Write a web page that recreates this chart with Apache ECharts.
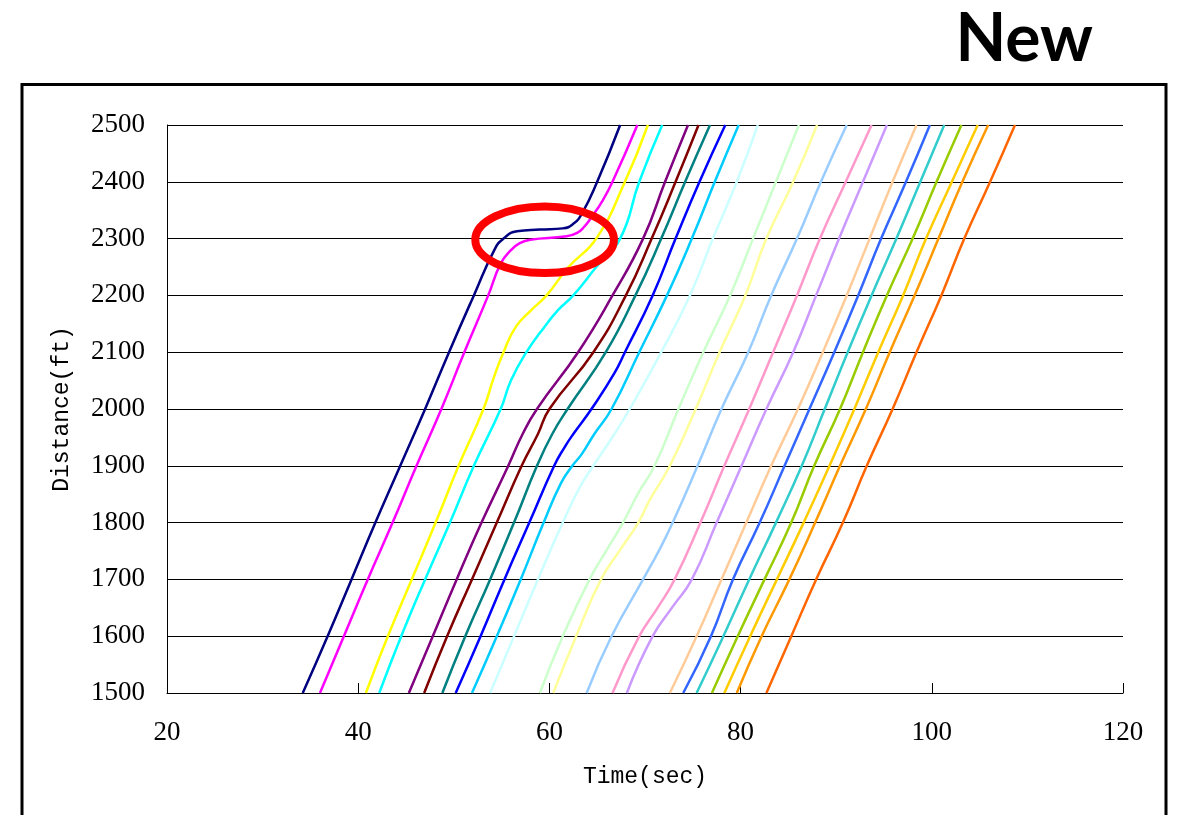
<!DOCTYPE html>
<html>
<head>
<meta charset="utf-8">
<script src="https://cdn.jsdelivr.net/npm/echarts@6/dist/echarts.min.js"></script>
<style>
html,body{margin:0;padding:0;background:#fff;}
#chart{width:1178px;height:815px;}
</style>
</head>
<body>
<div id="chart"></div>
<script>
// ---- data: [time (sec), distance (ft)] for each vehicle trajectory ----
const navy = [[34.2,1500],[36.8,1600],[39.3,1700],[41.8,1800],[44.4,1900],[47.0,2000],[49.5,2100],[52.1,2200],[54.3,2282],[55.2,2300],[56.6,2313],[59.0,2316],[61.4,2318],[62.5,2326],[63.4,2344],[65.0,2400],[67.4,2500]];
const magenta = [[36.0,1500],[38.5,1600],[41.0,1700],[43.6,1800],[46.1,1900],[48.7,2000],[51.1,2100],[53.6,2200],[54.9,2256],[56.0,2280],[56.9,2292],[58.0,2298],[61.8,2304],[62.9,2310],[63.6,2320],[64.5,2340],[65.5,2365],[66.6,2400],[69.2,2500]];
const yellow = [[40.8,1500],[43.1,1600],[45.6,1700],[48.1,1800],[50.5,1900],[53.1,2000],[54.2,2056],[55.2,2100],[56.5,2145],[58.1,2174],[59.7,2200],[62.0,2250],[64.9,2300],[67.9,2400],[70.3,2500]];
const cyan = [[42.2,1500],[44.5,1600],[47.0,1700],[49.6,1800],[52.1,1900],[54.9,2000],[56.0,2051],[57.6,2100],[59.5,2145],[60.9,2174],[62.5,2200],[64.9,2250],[67.4,2300],[69.4,2400],[71.8,2500]];
const purple = [[45.3,1500],[47.8,1600],[50.3,1700],[52.9,1800],[55.7,1900],[57.2,1956],[58.7,2000],[63.0,2100],[66.6,2200],[69.8,2300],[72.1,2400],[74.5,2500]];
const darkRed = [[46.9,1500],[49.3,1600],[51.9,1700],[54.5,1800],[57.1,1900],[58.8,1956],[60.0,2000],[64.6,2100],[68.0,2200],[70.7,2300],[73.2,2400],[75.6,2500]];
const teal = [[48.8,1500],[51.2,1600],[53.8,1700],[56.3,1800],[58.7,1900],[60.3,1956],[61.9,2000],[65.9,2100],[69.0,2200],[71.7,2300],[74.2,2400],[76.8,2500]];
const blue = [[50.2,1500],[52.8,1600],[55.3,1700],[57.9,1800],[60.5,1900],[61.6,1933],[62.5,1956],[64.4,2000],[66.8,2063],[67.9,2100],[70.8,2200],[73.2,2300],[75.7,2400],[78.4,2500]];
const skyBlue = [[51.9,1500],[54.5,1600],[57.0,1700],[59.4,1800],[61.2,1869],[62.4,1900],[63.4,1921],[64.7,1956],[66.5,2000],[69.4,2100],[72.3,2200],[74.9,2300],[77.3,2400],[79.8,2500]];
const lightTurquoise = [[53.8,1500],[56.3,1600],[58.8,1700],[61.4,1800],[63.2,1863],[64.6,1900],[66.8,1956],[68.4,2000],[71.7,2100],[74.7,2200],[77.1,2300],[79.6,2400],[81.8,2500]];
const lightGreen = [[59.0,1500],[61.4,1600],[64.2,1700],[66.0,1752],[67.7,1800],[69.3,1852],[71.0,1900],[73.5,2000],[76.1,2100],[78.9,2200],[81.3,2300],[83.7,2400],[86.1,2500]];
const lightYellow = [[60.4,1500],[62.8,1600],[65.4,1700],[67.4,1752],[69.3,1800],[70.5,1840],[72.6,1900],[75.3,2000],[77.8,2100],[80.5,2200],[82.7,2300],[85.5,2400],[88.0,2500]];
const paleBlue = [[63.9,1500],[66.5,1600],[69.8,1700],[71.5,1752],[72.9,1800],[75.5,1900],[78.0,2000],[80.8,2100],[83.2,2200],[85.9,2300],[88.4,2400],[91.1,2500]];
const rose = [[66.6,1500],[69.4,1600],[71.4,1652],[73.1,1700],[75.8,1800],[78.3,1900],[80.9,2000],[83.4,2100],[85.9,2200],[88.3,2300],[91.0,2400],[93.7,2500]];
const lavender = [[68.1,1500],[70.8,1600],[72.9,1652],[74.9,1700],[77.5,1800],[80.1,1900],[82.7,2000],[85.5,2100],[87.9,2200],[90.3,2300],[92.8,2400],[95.3,2500]];
const tan = [[72.6,1500],[75.4,1600],[78.0,1700],[80.6,1800],[83.2,1900],[86.0,2000],[88.6,2100],[91.1,2200],[93.5,2300],[95.9,2400],[98.4,2500]];
const lightBlue = [[74.0,1500],[76.9,1600],[79.2,1700],[82.0,1800],[84.6,1900],[87.2,2000],[89.8,2100],[92.3,2200],[94.7,2300],[97.3,2400],[99.8,2500]];
const aqua = [[75.4,1500],[78.2,1600],[80.9,1700],[83.7,1800],[86.4,1900],[88.8,2000],[91.2,2100],[93.7,2200],[96.3,2300],[98.8,2400],[101.3,2500]];
const lime = [[77.0,1500],[79.7,1600],[82.5,1700],[85.3,1800],[87.7,1900],[90.4,2000],[92.8,2100],[95.3,2200],[98.0,2300],[100.5,2400],[103.1,2500]];
const gold = [[78.3,1500],[81.0,1600],[83.8,1700],[86.6,1800],[89.3,1900],[91.9,2000],[94.4,2100],[97.0,2200],[99.4,2300],[102.1,2400],[104.8,2500]];
const lightOrange = [[79.6,1500],[82.2,1600],[85.1,1700],[87.8,1800],[90.4,1900],[93.1,2000],[95.6,2100],[98.2,2200],[100.7,2300],[103.2,2400],[105.9,2500]];
const orange = [[82.7,1500],[85.3,1600],[87.9,1700],[90.7,1800],[93.2,1900],[95.9,2000],[98.4,2100],[101.0,2200],[103.4,2300],[106.1,2400],[108.7,2500]];

const seriesData = [navy, magenta, yellow, cyan, purple, darkRed, teal, blue, skyBlue, lightTurquoise,
  lightGreen, lightYellow, paleBlue, rose, lavender, tan, lightBlue, aqua, lime, gold, lightOrange, orange];
const seriesColors = ['#000080','#FF00FF','#FFFF00','#00FFFF','#800080','#800000','#008080','#0000FF','#00CCFF','#CCFFFF',
  '#CCFFCC','#FFFF99','#99CCFF','#FF99CC','#CC99FF','#FFCC99','#3366FF','#33CCCC','#99CC00','#FFCC00','#FF9900','#FF6600'];

// axis settings
const xTicks = {min: 20, max: 120, interval: 20};
const yTicks = {min: 1500, max: 2500, interval: 100};
const xName = 'Time(sec)';
const yName = 'Distance(ft)';
const titleText = 'New';
// highlighted region (ellipse annotation) in data units
const highlight = {t: 59.5, d: 2298, dt: 7.25, dd: 58.6};

const chart = echarts.init(document.getElementById('chart'), null, {renderer: 'canvas'});

const labelFont = {fontFamily: '"Liberation Serif", "Times New Roman", serif', fontSize: 27, color: '#000'};
const nameFont = {fontFamily: '"Liberation Mono", monospace', fontSize: 23, color: '#000'};

chart.setOption({
  animation: false,
  backgroundColor: '#fff',
  grid: {left: 167, right: 55, top: 125, bottom: 122, containLabel: false},
  xAxis: {
    type: 'value', min: xTicks.min, max: xTicks.max, interval: xTicks.interval,
    name: xName, nameLocation: 'middle', nameGap: 72, nameTextStyle: nameFont,
    axisLine: {show: true, lineStyle: {color: '#000', width: 1}},
    axisTick: {show: true, inside: true, length: 10, lineStyle: {color: '#000', width: 1}},
    axisLabel: Object.assign({margin: 26, formatter: v => String(v)}, labelFont),
    splitLine: {show: false}
  },
  yAxis: {
    type: 'value', min: yTicks.min, max: yTicks.max, interval: yTicks.interval,
    name: yName, nameLocation: 'middle', nameGap: 94, nameRotate: 90, nameTextStyle: nameFont,
    axisLine: {show: true, lineStyle: {color: '#000', width: 1}},
    axisTick: {show: false},
    axisLabel: Object.assign({margin: 22, formatter: v => String(v)}, labelFont),
    splitLine: {show: true, lineStyle: {color: '#000', width: 1}}
  },
  series: seriesData.map((d, i) => ({
    type: 'line', data: d, showSymbol: false, smooth: 0.5,
    lineStyle: {color: seriesColors[i], width: 2.5},
    itemStyle: {color: seriesColors[i]},
    z: 3
  }))
});

const c = chart.convertToPixel({gridIndex: 0}, [highlight.t, highlight.d]);
const e1 = chart.convertToPixel({gridIndex: 0}, [highlight.t + highlight.dt, highlight.d + highlight.dd]);

chart.setOption({
  graphic: [
    {type: 'rect', shape: {x: 22, y: 84.5, width: 1144, height: 800},
     style: {fill: 'none', stroke: '#000', lineWidth: 3}, z: 100, silent: true},
    {type: 'text', x: 1093, y: 40,
     style: {text: titleText, textAlign: 'right', textVerticalAlign: 'middle',
       font: 'bold 66px Lato, "Open Sans", sans-serif', fill: '#000'}, z: 100},
    {type: 'ellipse', shape: {cx: c[0], cy: c[1], rx: Math.abs(e1[0] - c[0]), ry: Math.abs(c[1] - e1[1])},
     style: {fill: 'none', stroke: '#FF0000', lineWidth: 8}, z: 100, silent: true}
  ]
});
</script>
</body>
</html>
